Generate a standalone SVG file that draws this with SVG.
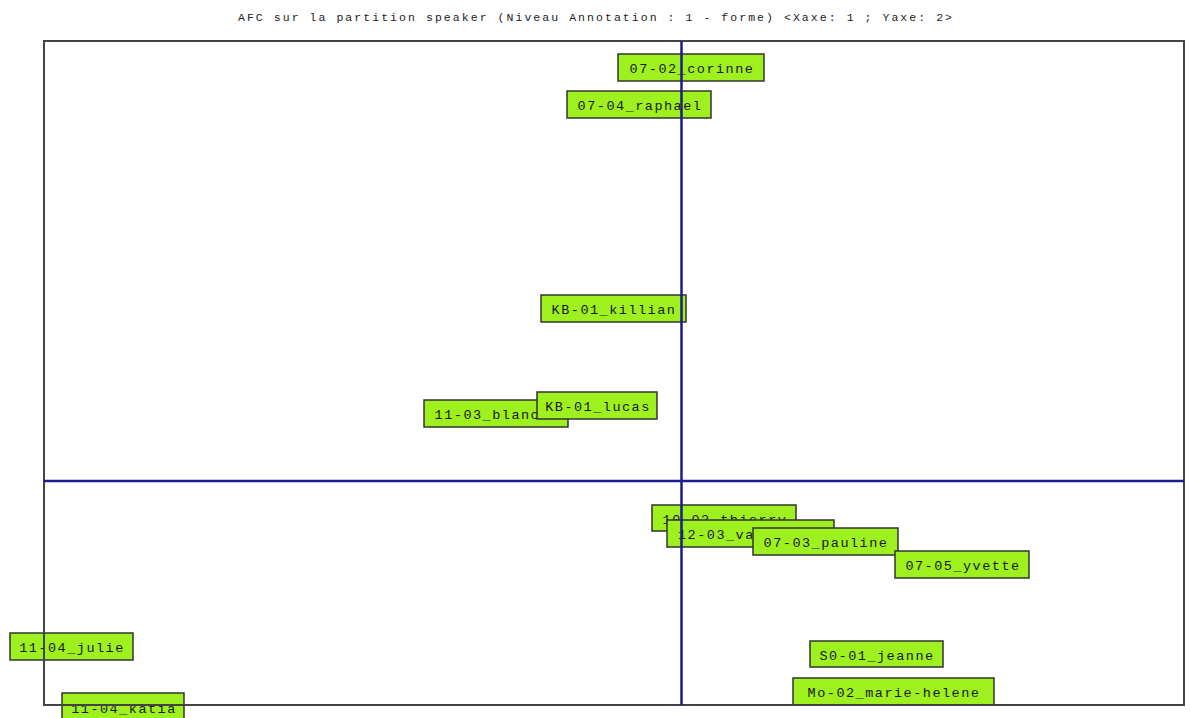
<svg xmlns="http://www.w3.org/2000/svg" width="1190" height="718" viewBox="0 0 1190 718">
<style>
.bg{fill:#ffffff}
.title{font-family:"Liberation Mono","Courier New",monospace;font-size:11.5px;letter-spacing:2.05px;fill:#222;text-anchor:middle}
.box{fill:#9ef01e;stroke:#333;stroke-width:1.5}
.lbl{font-family:"Liberation Mono","Courier New",monospace;font-size:13.5px;letter-spacing:1.5px;fill:#1a1a1a;text-anchor:middle}
.start{text-anchor:start}
.frame{fill:none;stroke:#444;stroke-width:2}
.axis{stroke:#1c1c8a;stroke-width:2.5}
</style>
<rect class="bg" width="1190" height="718"/>
<text class="title" x="596" y="21">AFC sur la partition speaker (Niveau Annotation : 1 - forme) &lt;Xaxe: 1 ; Yaxe: 2&gt;</text>
<g id="nodes">
<g id="n-corinne"><rect class="box" x="618" y="54" width="146" height="27"/><text class="lbl" x="692" y="73">07-02_corinne</text></g>
<g id="n-raphael"><rect class="box" x="567" y="91" width="144" height="27"/><text class="lbl" x="640" y="110">07-04_raphael</text></g>
<g id="n-killian"><rect class="box" x="541" y="295" width="145" height="27"/><text class="lbl" x="614" y="314">KB-01_killian</text></g>
<g id="n-blanche"><rect class="box" x="424" y="400" width="144" height="27"/><text class="lbl" x="497" y="419">11-03_blanche</text></g>
<g id="n-lucas"><rect class="box" x="537" y="392" width="120" height="27"/><text class="lbl" x="598" y="411">KB-01_lucas</text></g>
<g id="n-th"><rect class="box" x="652" y="505" width="144" height="26"/><text class="lbl" x="725" y="524">10-02_thierry</text></g>
<g id="n-va"><rect class="box" x="667" y="520" width="167" height="27"/><text class="lbl start" x="678" y="539">12-03_va</text></g>
<g id="n-pauline"><rect class="box" x="753" y="528" width="145" height="27"/><text class="lbl" x="826" y="547">07-03_pauline</text></g>
<g id="n-yvette"><rect class="box" x="895" y="551" width="134" height="27"/><text class="lbl" x="963" y="570">07-05_yvette</text></g>
<g id="n-julie"><rect class="box" x="10" y="633" width="123" height="27"/><text class="lbl" x="72" y="652">11-04_julie</text></g>
<g id="n-katia"><rect class="box" x="62" y="693" width="122" height="30"/><text class="lbl" x="124" y="713">11-04_katia</text></g>
<g id="n-jeanne"><rect class="box" x="810" y="641" width="133" height="26"/><text class="lbl" x="877" y="660">S0-01_jeanne</text></g>
<g id="n-marie"><rect class="box" x="793" y="678" width="201" height="27"/><text class="lbl" x="894" y="697">Mo-02_marie-helene</text></g>
</g>
<g id="connectors">
<rect class="frame" x="44" y="41" width="1140" height="664"/>
<line class="axis" x1="681.5" y1="41" x2="681.5" y2="705"/>
<line class="axis" x1="44" y1="481" x2="1184" y2="481"/>
</g>
</svg>
